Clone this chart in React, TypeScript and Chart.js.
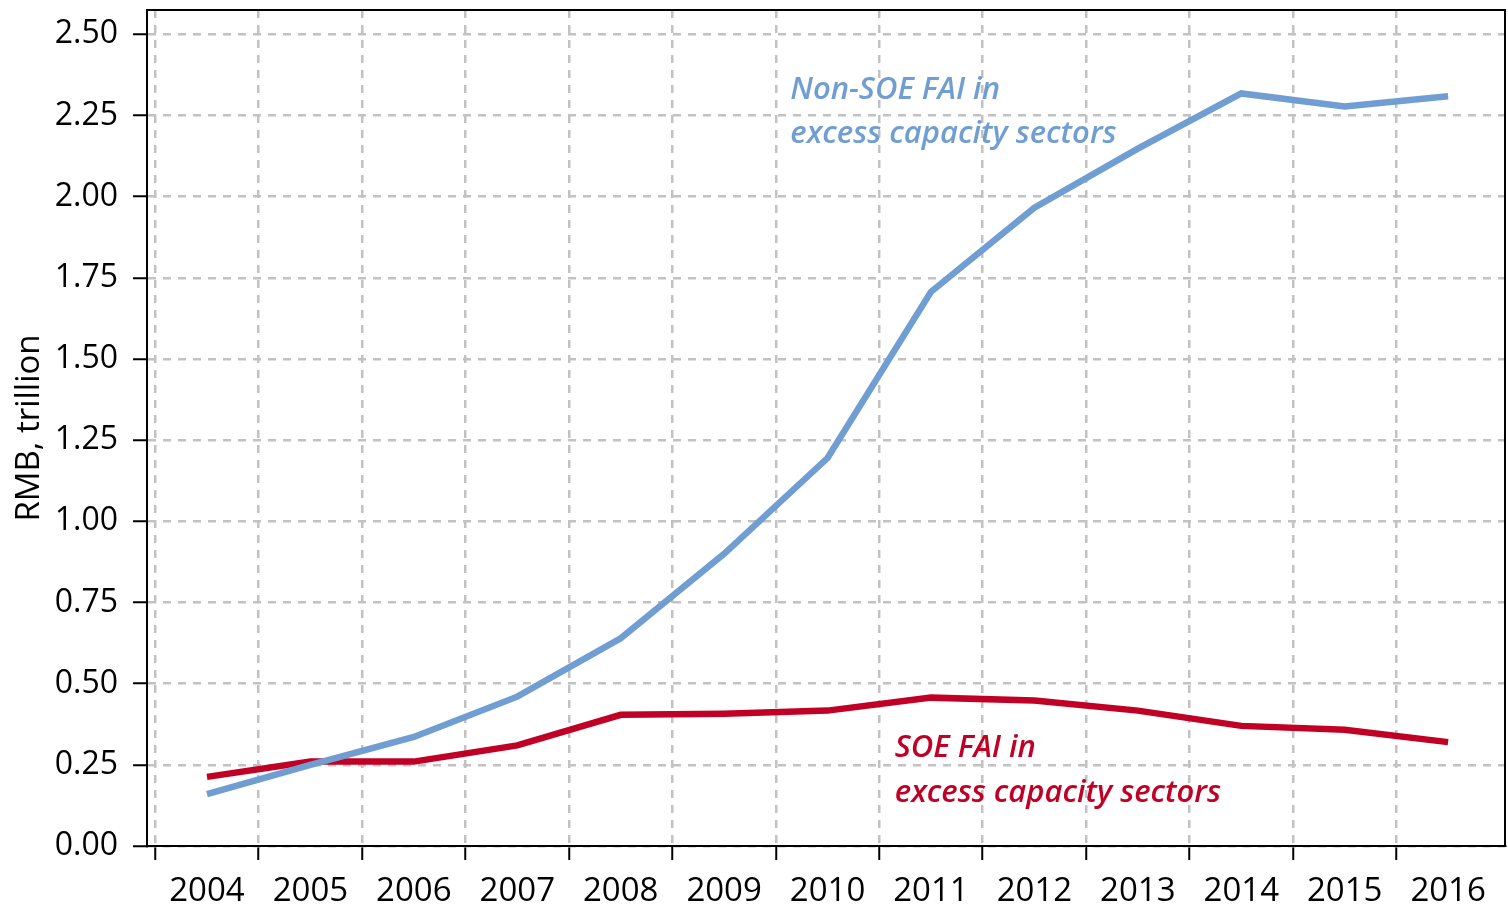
import React, { useEffect, useRef } from "react";
import { Chart, registerables } from "chart.js";

Chart.register(...registerables);

// ---- data ----
const years = [2004, 2005, 2006, 2007, 2008, 2009, 2010, 2011, 2012, 2013, 2014, 2015, 2016];
const nonSoeFai = [0.16, 0.25, 0.336, 0.46, 0.64, 0.9, 1.195, 1.707, 1.966, 2.148, 2.318, 2.278, 2.309];
const soeFai = [0.213, 0.26, 0.26, 0.31, 0.404, 0.407, 0.417, 0.457, 0.448, 0.417, 0.37, 0.358, 0.32];
const yTickValues = [0, 0.25, 0.5, 0.75, 1.0, 1.25, 1.5, 1.75, 2.0, 2.25, 2.5];
const yearBoundaries = years.map((y) => y - 0.5);

const BLUE = "#709ED2";
const RED = "#C00024";
const GRID = "#c2c2c2";
const FONT = '"Open Sans", "Noto Sans", sans-serif';

const annotations = [
  { lines: ["Non-SOE FAI in", "excess capacity sectors"], x: 2009.64, y: [2.3, 2.164], color: BLUE },
  { lines: ["SOE FAI in", "excess capacity sectors"], x: 2010.65, y: [0.275, 0.136], color: RED },
];

const frameAndLabels = {
  id: "frameAndLabels",
  afterDraw(chart: any) {
    const { ctx, chartArea, scales } = chart;
    ctx.save();
    ctx.strokeStyle = "#000";
    ctx.lineWidth = 2;
    ctx.strokeRect(chartArea.left, chartArea.top, chartArea.right - chartArea.left, chartArea.bottom - chartArea.top);
    ctx.font = `italic 600 31px ${FONT}`;
    ctx.textAlign = "left";
    ctx.textBaseline = "alphabetic";
    for (const a of annotations) {
      ctx.fillStyle = a.color;
      const px = scales.x.getPixelForValue(a.x);
      a.lines.forEach((line, i) => {
        ctx.fillText(line, px, scales.y.getPixelForValue(a.y[i]));
      });
    }
    ctx.restore();
  },
};

export default function App() {
  const ref = useRef<HTMLCanvasElement | null>(null);

  useEffect(() => {
    if (!ref.current) return;
    const chart = new Chart(ref.current, {
      type: "line",
      data: {
        datasets: [
          {
            label: "Non-SOE FAI in excess capacity sectors",
            data: years.map((y, i) => ({ x: y, y: nonSoeFai[i] })),
            borderColor: BLUE,
            borderWidth: 6.5,
            pointRadius: 0,
            tension: 0,
            fill: false,
          },
          {
            label: "SOE FAI in excess capacity sectors",
            data: years.map((y, i) => ({ x: y, y: soeFai[i] })),
            borderColor: RED,
            borderWidth: 6.5,
            pointRadius: 0,
            tension: 0,
            fill: false,
          },
        ],
      },
      options: {
        animation: false,
        responsive: true,
        maintainAspectRatio: false,
        layout: { padding: { top: 10, right: 3, left: 0, bottom: 0 } },
        plugins: { legend: { display: false }, tooltip: { enabled: false } },
        scales: {
          x: {
            type: "linear",
            min: 2003.42,
            max: 2016.55,
            afterBuildTicks: (scale: any) => {
              scale.ticks = [...yearBoundaries, ...years].sort((a, b) => a - b).map((v) => ({ value: v }));
            },
            afterFit: (scale: any) => {
              scale.height = 63;
              scale.paddingLeft = 0;
              scale.paddingRight = 0;
            },
            ticks: {
              autoSkip: false,
              maxRotation: 0,
              minRotation: 0,
              padding: 12,
              color: "#000",
              font: { family: FONT, size: 33 },
              callback: (v: any) => (Number.isInteger(Number(v)) ? String(v) : ""),
            },
            grid: {
              color: (ctx: any) => (ctx.tick && !Number.isInteger(ctx.tick.value) ? GRID : "rgba(0,0,0,0)"),
              tickColor: (ctx: any) => (ctx.tick && !Number.isInteger(ctx.tick.value) ? "#000" : "rgba(0,0,0,0)"),
              lineWidth: 2.5,
              tickLength: 14,
              tickWidth: 2,
              tickBorderDash: [],
            },
            border: { display: true, color: "#000", width: 2, dash: [8, 7] },
          },
          y: {
            type: "linear",
            min: 0,
            max: 2.575,
            afterBuildTicks: (scale: any) => {
              scale.ticks = yTickValues.map((v) => ({ value: v }));
            },
            afterFit: (scale: any) => {
              scale.width = 147;
              scale.paddingTop = 0;
              scale.paddingBottom = 0;
            },
            ticks: {
              padding: 15,
              color: "#000",
              font: { family: FONT, size: 32 },
              callback: (v: any) => Number(v).toFixed(2),
            },
            grid: {
              color: GRID,
              lineWidth: 2.5,
              tickColor: "#000",
              tickLength: 14,
              tickWidth: 2,
              tickBorderDash: [],
            },
            border: { display: true, color: "#000", width: 2, dash: [8, 7] },
            title: {
              display: true,
              text: "RMB, trillion",
              color: "#000",
              font: { family: FONT, size: 33 },
              padding: { top: 10, bottom: 0 },
            },
          },
        },
      },
      plugins: [frameAndLabels],
    });
    return () => chart.destroy();
  }, []);

  return (
    <div style={{ position: "fixed", left: 0, top: 0, width: 1508, height: 909 }}>
      <canvas ref={ref} />
    </div>
  );
}
